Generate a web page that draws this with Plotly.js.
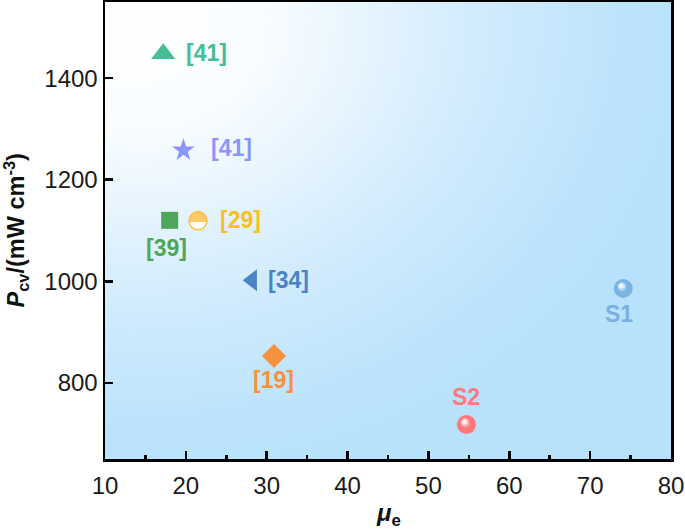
<!DOCTYPE html>
<html>
<head>
<meta charset="utf-8">
<script src="https://cdn.plot.ly/plotly-3.0.1.min.js"></script>
<style>
html,body{margin:0;padding:0;background:#fff;}
#chart{width:685px;height:532px;}
</style>
</head>
<body>
<div id="chart"></div>
<script>
// ---- data ----
const refLabels = ['[41]', '[41]', '[39]', '[29]', '[34]', '[19]', 'S1', 'S2'];
const muE = [17.2, 19.7, 18.0, 21.5, 28.2, 30.9, 74.1, 54.7];
const pCv = [1448, 1258, 1120, 1119, 1002, 853, 986, 718];
const xTickVals = [10, 20, 30, 40, 50, 60, 70, 80];
const yTickVals = [800, 1000, 1200, 1400];

// ---- styles ----
const symbols = ['triangle-up', 'star', 'square', 'circle', 'triangle-left', 'diamond', 'circle', 'circle'];
const markerColors = ['#45bd97', '#8d95fc', '#4fa65b', '#ffc96a', '#4a84c4', '#f8913c', '#7ab4e2', '#ff7878'];
const labelColors = ['#45bd97', '#8d95fc', '#4fa65b', '#fcbf22', '#4a84c4', '#f8913c', '#7ab0dc', '#fc7a7a'];
const sizes = [21, 17, 17, 18, 19, 18.5, 19, 19];
const gradients = [null, null, null, 'vertical', null, null, 'radial', 'radial'];
const lineW = [0, 0, 0, 1.5, 0, 0, 0, 0];
const lblAnchor = ['left', 'left', 'center', 'left', 'left', 'center', 'center', 'center'];
const lblDx = [21, 26, -3, 20, 14, 0, -4, 0];
const lblDy = [1, 2, -28, 1, 0, -24, -26, 27];

const FONT = 'Liberation Sans, Arial, Helvetica, sans-serif';

const traces = muE.map((x, i) => {
  const m = {
    symbol: symbols[i],
    color: markerColors[i],
    size: sizes[i],
    line: {width: lineW[i], color: lineW[i] ? '#fcbf40' : 'rgba(0,0,0,0)'}
  };
  if (gradients[i]) m.gradient = {type: gradients[i], color: '#ffffff'};
  return {
    type: 'scatter', mode: 'markers',
    x: [x], y: [pCv[i]],
    marker: m, hoverinfo: 'skip', showlegend: false, cliponaxis: false
  };
});

const annotations = muE.map((x, i) => ({
  x: x, y: pCv[i], xref: 'x', yref: 'y',
  text: refLabels[i], showarrow: false,
  xanchor: lblAnchor[i], yanchor: 'middle',
  xshift: lblDx[i], yshift: lblDy[i],
  font: {family: FONT, size: 23, color: labelColors[i], weight: 'bold'}
}));

annotations.push({
  xref: 'paper', yref: 'paper', x: 0, y: 0.5, xshift: -89,
  xanchor: 'center', yanchor: 'middle', textangle: -90, showarrow: false,
  text: '<b><i>P</i><sub>cv</sub>/(mW cm<sup>-3</sup>)</b>',
  font: {family: FONT, size: 23.5, color: '#111'}
});
annotations.push({
  xref: 'paper', yref: 'paper', x: 0.5, y: 0, yshift: -55,
  xanchor: 'center', yanchor: 'middle', showarrow: false,
  text: '<b><i>μ</i><sub>e</sub></b>',
  font: {family: FONT, size: 24, color: '#111'}
});

// gradient background image for plot area
function bgImage() {
  const w = 566, h = 457;
  const c = document.createElement('canvas');
  c.width = w; c.height = h;
  const ctx = c.getContext('2d');
  ctx.fillStyle = '#b8e2fc';
  ctx.fillRect(0, 0, w, h);
  const cx = 30, cy = 20, rx = 560, ry = 460;
  ctx.save();
  ctx.translate(cx, cy);
  ctx.scale(1, ry / rx);
  const g = ctx.createRadialGradient(0, 0, 0, 0, 0, rx);
  g.addColorStop(0, '#ffffff');
  g.addColorStop(0.24, '#f8fcff');
  g.addColorStop(0.6, '#d3ecfd');
  g.addColorStop(0.88, '#bce3fc');
  g.addColorStop(1, '#b8e2fc');
  ctx.fillStyle = g;
  ctx.fillRect(-cx - 10, -cy * rx / ry - 10, w + 20, (h + 20) * rx / ry + 20);
  ctx.restore();
  return c.toDataURL('image/png');
}

const layout = {
  width: 685, height: 532,
  margin: {l: 105, r: 14, t: 2, b: 73},
  paper_bgcolor: '#ffffff',
  plot_bgcolor: '#b8e2fc',
  font: {family: FONT, color: '#1a1a1a'},
  showlegend: false,
  xaxis: {
    range: [10, 80], tickvals: xTickVals, ticktext: xTickVals.map(String),
    ticks: 'inside', ticklen: 8, tickwidth: 2.5, tickcolor: '#000',
    showline: true, linewidth: 2.5, linecolor: '#000', mirror: true,
    showgrid: false, zeroline: false, ticklabelstandoff: 4,
    tickfont: {family: FONT, size: 24, color: '#1a1a1a'},
    minor: {dtick: 5, ticks: 'inside', ticklen: 4, tickwidth: 2.5, tickcolor: '#000', showgrid: false}
  },
  yaxis: {
    range: [650, 1550], tickvals: yTickVals, ticktext: yTickVals.map(String),
    ticks: 'inside', ticklen: 8, tickwidth: 2.5, tickcolor: '#000',
    showline: true, linewidth: 2.5, linecolor: '#000', mirror: true,
    showgrid: false, zeroline: false,
    tickfont: {family: FONT, size: 24, color: '#1a1a1a'}
  },
  images: [{
    source: bgImage(), xref: 'paper', yref: 'paper',
    x: 0, y: 1, sizex: 1, sizey: 1, xanchor: 'left', yanchor: 'top',
    sizing: 'stretch', layer: 'below'
  }],
  annotations: annotations
};

function tweakGradients() {
  const gd = document.getElementById('chart');
  gd.querySelectorAll('linearGradient').forEach(el => {
    const stops = el.querySelectorAll('stop');
    if (stops.length < 2 || el.getAttribute('data-tw')) return;
    const c0 = stops[0].getAttribute('stop-color'), c1 = stops[stops.length - 1].getAttribute('stop-color');
    while (el.firstChild) el.removeChild(el.firstChild);
    [[0, c0], [0.45, c0], [0.45, c1], [1, c1]].forEach(([o, c]) => {
      const s = document.createElementNS('http://www.w3.org/2000/svg', 'stop');
      s.setAttribute('offset', o); s.setAttribute('stop-color', c);
      el.appendChild(s);
    });
    el.setAttribute('data-tw', '1');
  });
  gd.querySelectorAll('radialGradient').forEach(el => {
    const stops = el.querySelectorAll('stop');
    if (stops.length < 2 || el.getAttribute('data-tw')) return;
    const c0 = stops[0].getAttribute('stop-color'), c1 = stops[stops.length - 1].getAttribute('stop-color');
    el.setAttribute('cx', '50%'); el.setAttribute('cy', '50%'); el.setAttribute('r', '50%');
    el.setAttribute('fx', '36%'); el.setAttribute('fy', '32%');
    while (el.firstChild) el.removeChild(el.firstChild);
    [[0, c0], [0.12, c0], [0.55, c1], [1, c1]].forEach(([o, c]) => {
      const s = document.createElementNS('http://www.w3.org/2000/svg', 'stop');
      s.setAttribute('offset', o); s.setAttribute('stop-color', c);
      el.appendChild(s);
    });
    el.setAttribute('data-tw', '1');
  });
}

Plotly.newPlot('chart', traces, layout, {staticPlot: true, displayModeBar: false}).then(tweakGradients);
tweakGradients();
</script>
</body>
</html>
